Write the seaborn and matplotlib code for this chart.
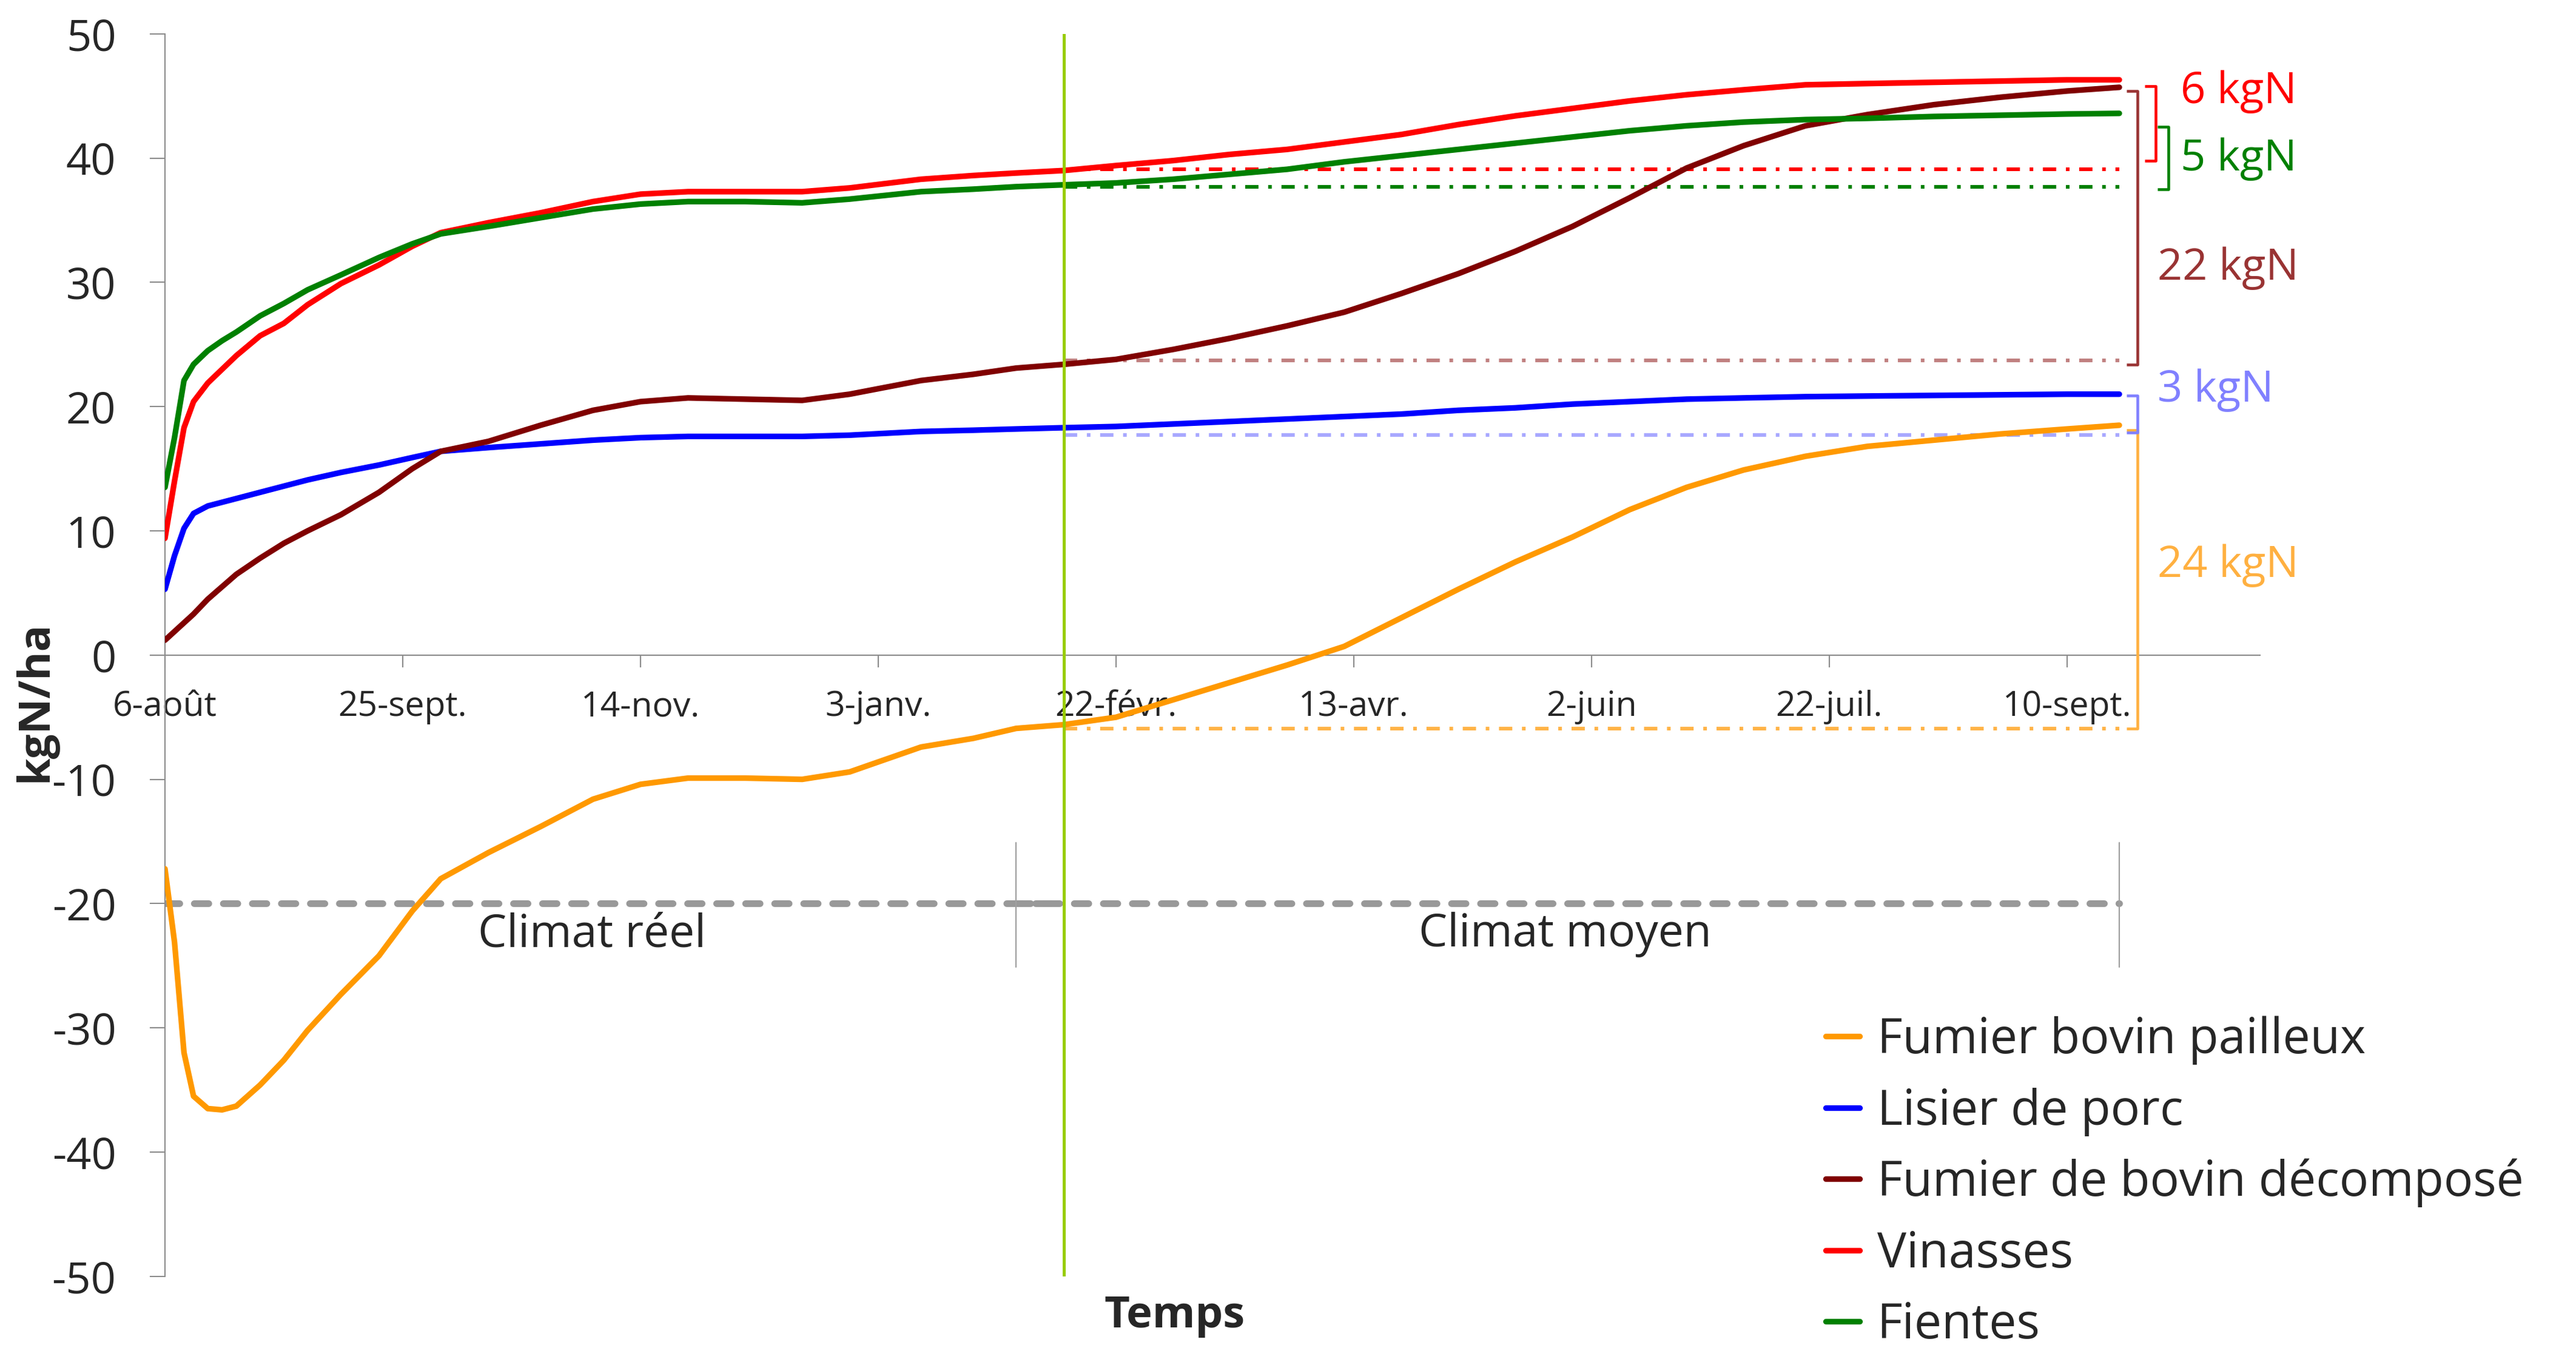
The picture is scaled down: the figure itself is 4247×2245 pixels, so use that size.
import matplotlib
matplotlib.use("Agg")
import matplotlib.pyplot as plt
import seaborn as sns
import pandas as pd

# ---- data -----------------------------------------------------------------
# days elapsed since 6 August
days = [0, 2, 4, 6, 9, 12, 15, 20, 25, 30, 37, 45, 52, 58, 68, 79, 90, 100,
        110, 122, 134, 144, 159, 170, 179, 189, 200, 212, 224, 236, 248, 260,
        272, 284, 296, 308, 320, 332, 345, 358, 372, 386, 400, 411]

fumier_pailleux = [-17.2, -23.1, -32.0, -35.5, -36.5, -36.6, -36.3, -34.6, -32.6,
                   -30.2, -27.3, -24.2, -20.6, -18.0, -15.9, -13.8, -11.6, -10.4,
                   -9.9, -9.9, -10.0, -9.4, -7.4, -6.7, -5.9, -5.6, -5.0, -3.6,
                   -2.2, -0.8, 0.7, 3.0, 5.3, 7.5, 9.5, 11.7, 13.5, 14.9, 16.0,
                   16.8, 17.3, 17.8, 18.2, 18.5]
lisier_porc = [5.3, 8.0, 10.2, 11.4, 12.0, 12.3, 12.6, 13.1, 13.6, 14.1, 14.7,
               15.3, 15.9, 16.4, 16.7, 17.0, 17.3, 17.5, 17.6, 17.6, 17.6, 17.7,
               18.0, 18.1, 18.2, 18.3, 18.4, 18.6, 18.8, 19.0, 19.2, 19.4, 19.7,
               19.9, 20.2, 20.4, 20.6, 20.7, 20.8, 20.85, 20.9, 20.95, 21.0, 21.0]
fumier_decompose = [1.2, 1.9, 2.6, 3.3, 4.5, 5.5, 6.5, 7.8, 9.0, 10.0, 11.3, 13.1,
                    15.0, 16.4, 17.2, 18.5, 19.7, 20.4, 20.7, 20.6, 20.5, 21.0,
                    22.1, 22.6, 23.1, 23.4, 23.8, 24.6, 25.5, 26.5, 27.6, 29.1,
                    30.7, 32.5, 34.5, 36.8, 39.2, 41.0, 42.6, 43.5, 44.3, 44.9,
                    45.4, 45.7]
vinasses = [9.4, 14.0, 18.3, 20.4, 21.9, 23.0, 24.1, 25.7, 26.7, 28.2, 29.9, 31.4,
            32.9, 34.0, 34.8, 35.6, 36.5, 37.1, 37.3, 37.3, 37.3, 37.6, 38.3, 38.6,
            38.8, 39.0, 39.4, 39.8, 40.3, 40.7, 41.3, 41.9, 42.7, 43.4, 44.0, 44.6,
            45.1, 45.5, 45.9, 46.0, 46.1, 46.2, 46.3, 46.3]
fientes = [13.5, 17.5, 22.1, 23.4, 24.5, 25.3, 26.0, 27.3, 28.3, 29.4, 30.6, 32.0,
           33.1, 33.9, 34.5, 35.2, 35.9, 36.3, 36.5, 36.5, 36.4, 36.7, 37.3, 37.5,
           37.7, 37.85, 38.0, 38.3, 38.7, 39.1, 39.7, 40.2, 40.7, 41.2, 41.7, 42.2,
           42.6, 42.9, 43.1, 43.2, 43.35, 43.45, 43.55, 43.6]

series_names = ["Fumier bovin pailleux", "Lisier de porc",
                "Fumier de bovin décomposé", "Vinasses", "Fientes"]
series_values = [fumier_pailleux, lisier_porc, fumier_decompose, vinasses, fientes]

# level reached at the switch from real to average climate
switch_day = 189
end_day = 411
reference_levels = [-5.9, 17.7, 23.7, 39.1, 37.7]

# net gains after the switch (kgN) and where their brackets start
gain_values = [24, 3, 22, 6, 5]
gain_bracket_base = [-5.9, 17.9, 23.4, 39.8, 37.5]
gain_bracket_day = [414.8, 414.8, 414.8, 418.6, 421.3]
gain_label_day = [419.0, 419.0, 419.0, 423.9, 423.9]
gain_label_level = [6.3, 20.4, 30.2, 44.4, 39.0]

tick_days = [0, 50, 100, 150, 200, 250, 300, 350, 400]
tick_labels = ["6-août", "25-sept.", "14-nov.", "3-janv.", "22-févr.",
               "13-avr.", "2-juin", "22-juil.", "10-sept."]

# ---- style ----------------------------------------------------------------
sns.set_style("white")
plt.rcParams["font.family"] = ["Open Sans", "DejaVu Sans"]
plt.rcParams["axes.unicode_minus"] = False

line_colors = ["#FF9900", "#0000FF", "#800000", "#FF0000", "#008000"]
ref_colors = ["#FFB347", "#A8A8FF", "#C08080", "#FF0000", "#008000"]
gain_colors = ["#FFB040", "#8080FF", "#993333", "#FF0000", "#008000"]
axis_gray = "#8C8C8C"

fig = plt.figure(figsize=(42.47, 22.45), dpi=100)
ax = fig.add_axes([0.06405, 0.06290, 0.8133, 0.91224])

# ---- curves ---------------------------------------------------------------
frame = pd.DataFrame({"jour": days})
handles = []
for name, vals, col in zip(series_names, series_values, line_colors):
    frame[name] = vals
    sns.lineplot(data=frame, x="jour", y=name, ax=ax, color=col, lw=6.7,
                 solid_capstyle="round", solid_joinstyle="round", zorder=4,
                 legend=False)
    line = ax.lines[-1]
    line.set_label(name)
    handles.append(line)

# horizontal dash-dot levels from the climate switch onwards
for lvl, col in zip(reference_levels, ref_colors):
    ax.plot([switch_day, end_day], [lvl, lvl], color=col, lw=4.3,
            ls=(0, (3.67, 2.67, 1.0, 2.67)), dash_capstyle="butt", zorder=3)

# gain brackets and their labels
for g, base, xd, col, lx, ly in zip(gain_values, gain_bracket_base,
                                     gain_bracket_day, gain_colors,
                                     gain_label_day, gain_label_level):
    top = base + g
    ax.plot([xd - 2.3, xd, xd, xd - 2.3], [top, top, base, base], color=col,
            lw=3.3, solid_joinstyle="round", solid_capstyle="butt",
            clip_on=False, zorder=5)
    ax.text(lx, ly, f"{g} kgN", color=col, fontsize=52, ha="left",
            va="baseline", clip_on=False)

# climate periods
ax.plot([0, switch_day], [-20, -20], color="#999999", lw=7.9,
        ls=(0, (2.18, 2.18)), dash_capstyle="round", zorder=2)
ax.plot([179, end_day], [-20, -20], color="#999999", lw=7.9,
        ls=(0, (2.18, 2.18)), dash_capstyle="round", zorder=2)
for xd in (179, end_day):
    ax.plot([xd, xd], [-15.1, -25.1], color="#A0A0A0", lw=1.6, zorder=2)
ax.text(89.8, -23.45, "Climat réel", fontsize=54, ha="center", va="baseline")
ax.text(294.5, -23.45, "Climat moyen", fontsize=54, ha="center", va="baseline")

# switch marker
ax.axvline(switch_day, color="#99CC00", lw=3.6, zorder=6)

# ---- axes -----------------------------------------------------------------
ax.set_xlim(0, 440.6)
ax.set_ylim(-50, 50)
ax.set_xticks(tick_days)
ax.set_xticklabels(tick_labels)
ax.set_yticks(list(range(-50, 51, 10)))
ax.set_xlabel("")
ax.set_ylabel("")

for side in ("top", "right"):
    ax.spines[side].set_visible(False)
ax.spines["bottom"].set_position(("data", 0))
for side in ("left", "bottom"):
    ax.spines[side].set_color(axis_gray)
    ax.spines[side].set_linewidth(1.5)

ax.tick_params(axis="x", direction="out", length=14.4, width=1.5,
               color=axis_gray, labelsize=41, pad=27, bottom=True)
ax.tick_params(axis="y", direction="out", length=18, width=1.5,
               color=axis_gray, labelsize=52, pad=40, left=True)

fig.text(58 / 4247, 1 - 1156 / 2245, "kgN/ha", rotation=90, fontsize=52,
         fontweight="bold", ha="center", va="center")
fig.text(1937 / 4247, 1 - 2188 / 2245, "Temps", fontsize=52,
         fontweight="bold", ha="center", va="baseline")

fig.legend(handles=handles, labels=series_names, loc="center left",
           bbox_to_anchor=(3010 / 4247, 0.1314), frameon=False, fontsize=58,
           handlelength=0.7, handletextpad=0.35, labelspacing=0.46,
           borderpad=0, borderaxespad=0)

fig.savefig("out.png", dpi=100)
